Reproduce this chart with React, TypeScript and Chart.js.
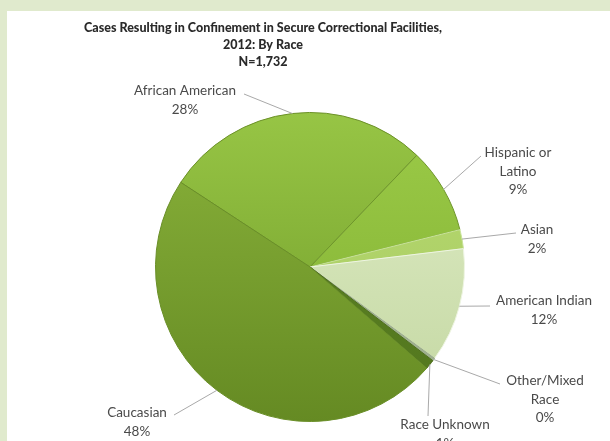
import React, { useEffect, useRef } from "react";
import { Chart, registerables } from "chart.js";

Chart.register(...registerables);

const titleLines = [
  "Cases Resulting in Confinement in Secure Correctional Facilities,",
  "2012: By Race",
  "N=1,732",
];

const categories = [
  "African American",
  "Hispanic or Latino",
  "Asian",
  "American Indian",
  "Other/Mixed Race",
  "Race Unknown",
  "Caucasian",
];

// wrapped label text per category
const categoryLines = [
  ["African American"],
  ["Hispanic or", "Latino"],
  ["Asian"],
  ["American Indian"],
  ["Other/Mixed", "Race"],
  ["Race Unknown"],
  ["Caucasian"],
];

// percent of cases
const percents = [28, 9, 2, 12, 0.3, 1, 48];

const topColors = [
  "#97c545",
  "#9ccb48",
  "#b8da72",
  "#e0edc8",
  "#b0c0a0",
  "#5e8524",
  "#8ab33b",
];
const bottomColors = [
  "#6f9a28",
  "#7fae30",
  "#a5c95e",
  "#c3d7a1",
  "#9aab8a",
  "#52761e",
  "#658a23",
];
const borderColors = [
  "#6c9128",
  "#6f962c",
  "#c9e39a",
  "#eef5e2",
  "#9aab8a",
  "#4d6e1c",
  "#6a8f28",
];

// label text anchor (tx, ty) and leader end (lx, ly), px from pie centre
const placement = [
  { tx: -125, ty: -176, lx: -66, ly: -173 },
  { tx: 208, ty: -114, lx: 171, ly: -111 },
  { tx: 227, ty: -37, lx: 206, ly: -34 },
  { tx: 234, ty: 34, lx: 180, ly: 39 },
  { tx: 235, ty: 114, lx: 190, ly: 117 },
  { tx: 135, ty: 158, lx: 118, ly: 149 },
  { tx: -173, ty: 146, lx: -136, ly: 148 },
];

const labelFont = "13.5px Lato, 'Open Sans', sans-serif";
const titleFont = "900 12.5px Lato, 'Open Sans', sans-serif";

const bgPlugin = {
  id: "bg",
  beforeDraw(chart: any) {
    const ctx = chart.ctx;
    ctx.save();
    ctx.fillStyle = "#e0eacd";
    ctx.fillRect(0, 0, chart.width, chart.height);
    ctx.fillStyle = "#ffffff";
    ctx.fillRect(7, 11, chart.width - 7, chart.height - 11);
    ctx.restore();
  },
};

const labelPlugin = {
  id: "pieLabels",
  afterDatasetsDraw(chart: any) {
    const ctx = chart.ctx;
    const meta = chart.getDatasetMeta(0);
    ctx.save();
    ctx.fillStyle = "#2a2a2a";
    ctx.font = titleFont;
    ctx.textAlign = "center";
    ctx.textBaseline = "middle";
    titleLines.forEach((t, i) => ctx.fillText(t, 263, 28 + i * 17));

    meta.data.forEach((arc: any, i: number) => {
      const p = arc.getProps(["x", "y", "startAngle", "endAngle", "outerRadius"], true);
      const mid = (p.startAngle + p.endAngle) / 2;
      const ex = p.x + Math.cos(mid) * p.outerRadius;
      const ey = p.y + Math.sin(mid) * p.outerRadius;
      const pl = placement[i];
      ctx.strokeStyle = "#a9a9a9";
      ctx.lineWidth = 1;
      ctx.beginPath();
      ctx.moveTo(ex, ey);
      ctx.lineTo(p.x + pl.lx, p.y + pl.ly);
      ctx.stroke();
      ctx.fillStyle = "#4a4a4a";
      ctx.font = labelFont;
      ctx.textAlign = "center";
      ctx.textBaseline = "middle";
      const lines = [...categoryLines[i], Math.round(percents[i]) + "%"];
      lines.forEach((t, j) => ctx.fillText(t, p.x + pl.tx, p.y + pl.ty + j * 18.5));
    });
    ctx.restore();
  },
};

export default function App() {
  const ref = useRef<HTMLCanvasElement | null>(null);
  useEffect(() => {
    document.body.style.margin = "0";
    const chart = new Chart(ref.current as HTMLCanvasElement, {
      type: "pie",
      data: {
        labels: categories,
        datasets: [
          {
            data: percents,
            backgroundColor: (c: any) => {
              const ca = c.chart.chartArea;
              const i = c.dataIndex;
              if (!ca || i === undefined) return topColors[i ?? 0];
              const g = c.chart.ctx.createLinearGradient(0, ca.top, 0, ca.bottom);
              g.addColorStop(0, topColors[i]);
              g.addColorStop(1, bottomColors[i]);
              return g;
            },
            borderColor: borderColors,
            borderWidth: 1,
          },
        ],
      },
      options: {
        responsive: false,
        animation: false,
        rotation: -56.8,
        layout: { padding: { top: 112, bottom: 19, left: 155, right: 145 } },
        plugins: {
          legend: { display: false },
          tooltip: { enabled: false },
          title: { display: false },
        },
      },
      plugins: [bgPlugin, labelPlugin],
    });
    return () => chart.destroy();
  }, []);
  return (
    <div style={{ position: "absolute", left: 0, top: 0, width: 610, height: 441 }}>
      <canvas ref={ref} width={610} height={441} style={{ width: 610, height: 441, display: "block" }} />
    </div>
  );
}
